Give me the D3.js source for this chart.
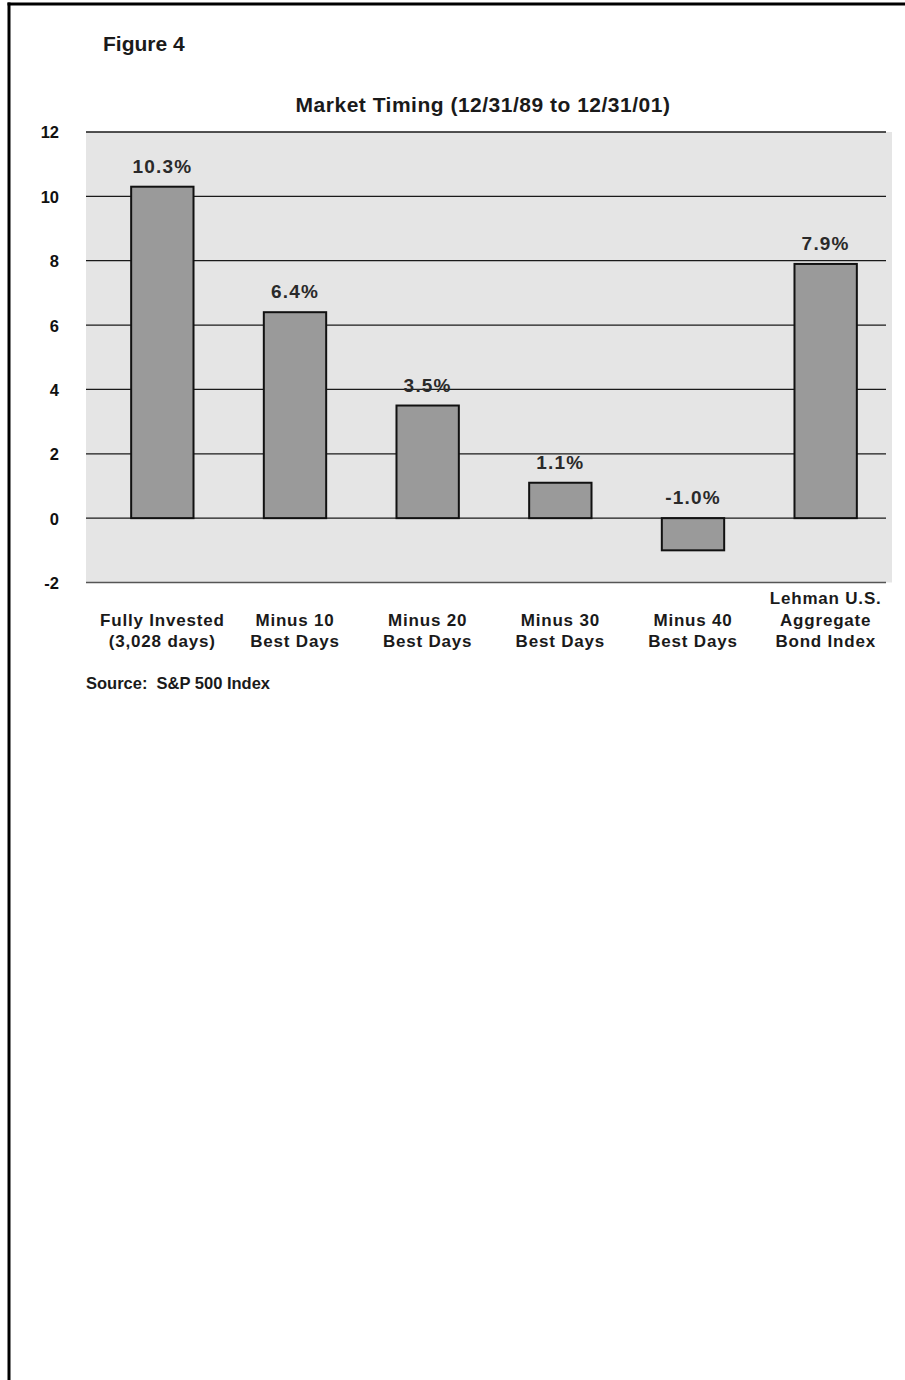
<!DOCTYPE html>
<html>
<head>
<meta charset="utf-8">
<script src="https://cdn.jsdelivr.net/npm/d3@7"></script>
<style>
  html, body { margin: 0; padding: 0; background: #fff; }
  svg { display: block; font-family: "Liberation Sans", Arial, Helvetica, sans-serif; font-weight: bold; }
</style>
</head>
<body>
<svg id="chart" width="905" height="1380"></svg>
<script>
const categories = ["Fully Invested", "Minus 10", "Minus 20", "Minus 30", "Minus 40", "Lehman"];
const categoryLabels = [
  ["Fully Invested", "(3,028 days)"],
  ["Minus 10", "Best Days"],
  ["Minus 20", "Best Days"],
  ["Minus 30", "Best Days"],
  ["Minus 40", "Best Days"],
  ["Lehman U.S.", "Aggregate", "Bond Index"]
];
const values = [10.3, 6.4, 3.5, 1.1, -1.0, 7.9];
const valueLabels = ["10.3%", "6.4%", "3.5%", "1.1%", "-1.0%", "7.9%"];
const yTicks = [-2, 0, 2, 4, 6, 8, 10, 12];
const yTickLabels = ["-2", "0", "2", "4", "6", "8", "10", "12"];
const figureLabel = "Figure 4";
const title = "Market Timing (12/31/89 to 12/31/01)";
const source = "Source:  S&P 500 Index";

const svg = d3.select("#chart");

// page frame (top and left rules)
svg.append("line").attr("x1", 7.5).attr("x2", 905).attr("y1", 4).attr("y2", 4)
  .attr("stroke", "#000").attr("stroke-width", 3);
svg.append("line").attr("x1", 9).attr("x2", 9).attr("y1", 2.5).attr("y2", 1380)
  .attr("stroke", "#000").attr("stroke-width", 3);

const y = d3.scaleLinear().domain([-2, 12]).range([582.5, 132]);
const x = d3.scaleBand().domain(categories).range([96, 892])
  .paddingInner(0.53).paddingOuter(0.265);

const plotLeft = 86, gridRight = 886, bgRight = 892;

// plot background
svg.append("rect")
  .attr("x", plotLeft).attr("y", y(12))
  .attr("width", bgRight - plotLeft).attr("height", y(-2) - y(12))
  .attr("fill", "#e5e5e5");

// gridlines
svg.append("g").selectAll("line").data(yTicks).join("line")
  .attr("x1", plotLeft).attr("x2", gridRight)
  .attr("y1", d => y(d)).attr("y2", d => y(d))
  .attr("stroke", d => d === -2 ? "#555" : "#1a1a1a")
  .attr("stroke-width", 1.3);

// y axis labels
const yAxis = d3.axisLeft(y).tickValues(yTicks).tickSize(0).tickPadding(0)
  .tickFormat((d, i) => yTickLabels[i]);
const gy = svg.append("g").attr("transform", "translate(59,0)").call(yAxis);
gy.select(".domain").remove();
gy.selectAll("text")
  .attr("font-family", "\"Liberation Sans\", Arial, Helvetica, sans-serif")
  .attr("font-weight", "bold")
  .attr("font-size", 16.5)
  .attr("fill", "#111")
  .attr("dy", "0.36em");

// bars
svg.append("g").selectAll("rect").data(values).join("rect")
  .attr("x", (d, i) => x(categories[i]))
  .attr("width", x.bandwidth())
  .attr("y", d => y(Math.max(d, 0)))
  .attr("height", d => Math.abs(y(d) - y(0)))
  .attr("fill", "#9a9a9a")
  .attr("stroke", "#111")
  .attr("stroke-width", 2);

// value labels
svg.append("g").selectAll("text").data(values).join("text")
  .attr("x", (d, i) => x(categories[i]) + x.bandwidth() / 2)
  .attr("y", d => y(Math.max(d, 0)) - 14)
  .attr("text-anchor", "middle")
  .attr("font-size", 19)
  .attr("letter-spacing", 1.2)
  .attr("fill", "#2a2a2a")
  .text((d, i) => valueLabels[i]);

// category labels (bottom-aligned multi-line)
const lineH = 21.5, lastBaseline = 647;
const gx = svg.append("g");
categoryLabels.forEach((lines, i) => {
  const cx = x(categories[i]) + x.bandwidth() / 2;
  const t = gx.append("text")
    .attr("text-anchor", "middle")
    .attr("font-size", 17)
    .attr("letter-spacing", 0.8)
    .attr("fill", "#1a1a1a");
  lines.forEach((ln, j) => {
    t.append("tspan")
      .attr("x", cx)
      .attr("y", lastBaseline - (lines.length - 1 - j) * lineH)
      .text(ln);
  });
});

// figure label, title, source
svg.append("text").attr("x", 103).attr("y", 50.5)
  .attr("font-size", 21).attr("fill", "#1a1a1a").text(figureLabel);
svg.append("text").attr("x", 483).attr("y", 111.5).attr("text-anchor", "middle")
  .attr("font-size", 21).attr("letter-spacing", 0.5).attr("fill", "#1a1a1a").text(title);
svg.append("text").attr("x", 86).attr("y", 689)
  .style("white-space", "pre")
  .attr("font-size", 16.5).attr("fill", "#1a1a1a").text(source);
</script>
</body>
</html>
